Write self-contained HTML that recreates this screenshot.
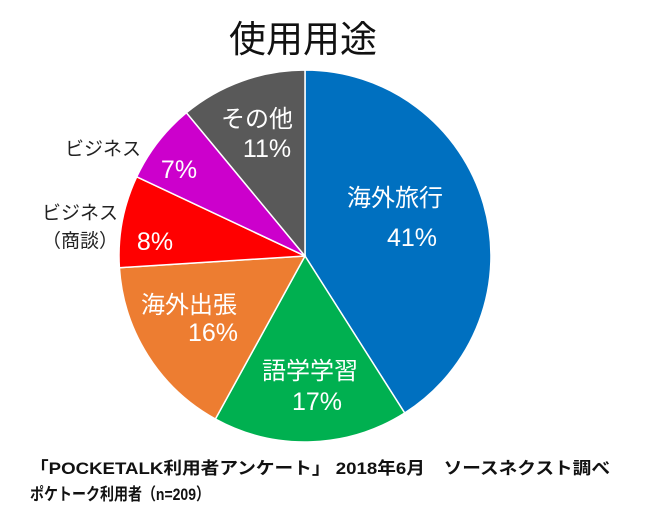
<!DOCTYPE html>
<html><head><meta charset="utf-8"><style>
body{margin:0;background:#fff;}
svg{display:block;font-family:"Liberation Sans","Noto Sans CJK JP",sans-serif;}
</style></head><body>
<svg width="650" height="526" viewBox="0 0 650 526">
<rect width="650" height="526" fill="#fff"/>
<text x="303" y="52" font-size="37" text-anchor="middle" fill="#111">使用用途</text>
<g stroke="#fff" stroke-width="1.5">
<path d="M305,256 L305,70 A186,186 0 0 1 404.7,413 Z" fill="#0070C0"/>
<path d="M305,256 L404.7,413 A186,186 0 0 1 215.4,419 Z" fill="#00B050"/>
<path d="M305,256 L215.4,419 A186,186 0 0 1 119.4,267.7 Z" fill="#ED7D31"/>
<path d="M305,256 L119.4,267.7 A186,186 0 0 1 136.7,176.8 Z" fill="#FF0000"/>
<path d="M305,256 L136.7,176.8 A186,186 0 0 1 186.4,112.7 Z" fill="#CC00CC"/>
<path d="M305,256 L186.4,112.7 A186,186 0 0 1 305,70 Z" fill="#595959"/>
</g>
<g fill="#fff" font-size="24" text-anchor="middle">
<text x="395" y="206">海外旅行</text>
<text x="257" y="127">その他</text>
<text x="189" y="313">海外出張</text>
<text x="310" y="379">語学学習</text>
</g>
<g fill="#fff" font-size="25" text-anchor="middle">
<text x="412" y="246">41%</text>
<text x="267" y="157">11%</text>
<text x="179" y="178">7%</text>
<text x="155" y="250">8%</text>
<text x="213" y="341">16%</text>
<text x="317" y="410">17%</text>
</g>
<g fill="#222" font-size="19" text-anchor="middle">
<text x="103" y="155">ビジネス</text>
<text x="80" y="219">ビジネス</text>
<text x="80" y="247">（商談）</text>
</g>
<g fill="#111" font-size="17" font-weight="bold">
<text x="30" y="474" textLength="580" lengthAdjust="spacingAndGlyphs">「POCKETALK利用者アンケート」 2018年6月　ソースネクスト調べ</text>
<text x="30" y="500" textLength="180" lengthAdjust="spacingAndGlyphs">ポケトーク利用者（n=209）</text>
</g>
</svg>
</body></html>
